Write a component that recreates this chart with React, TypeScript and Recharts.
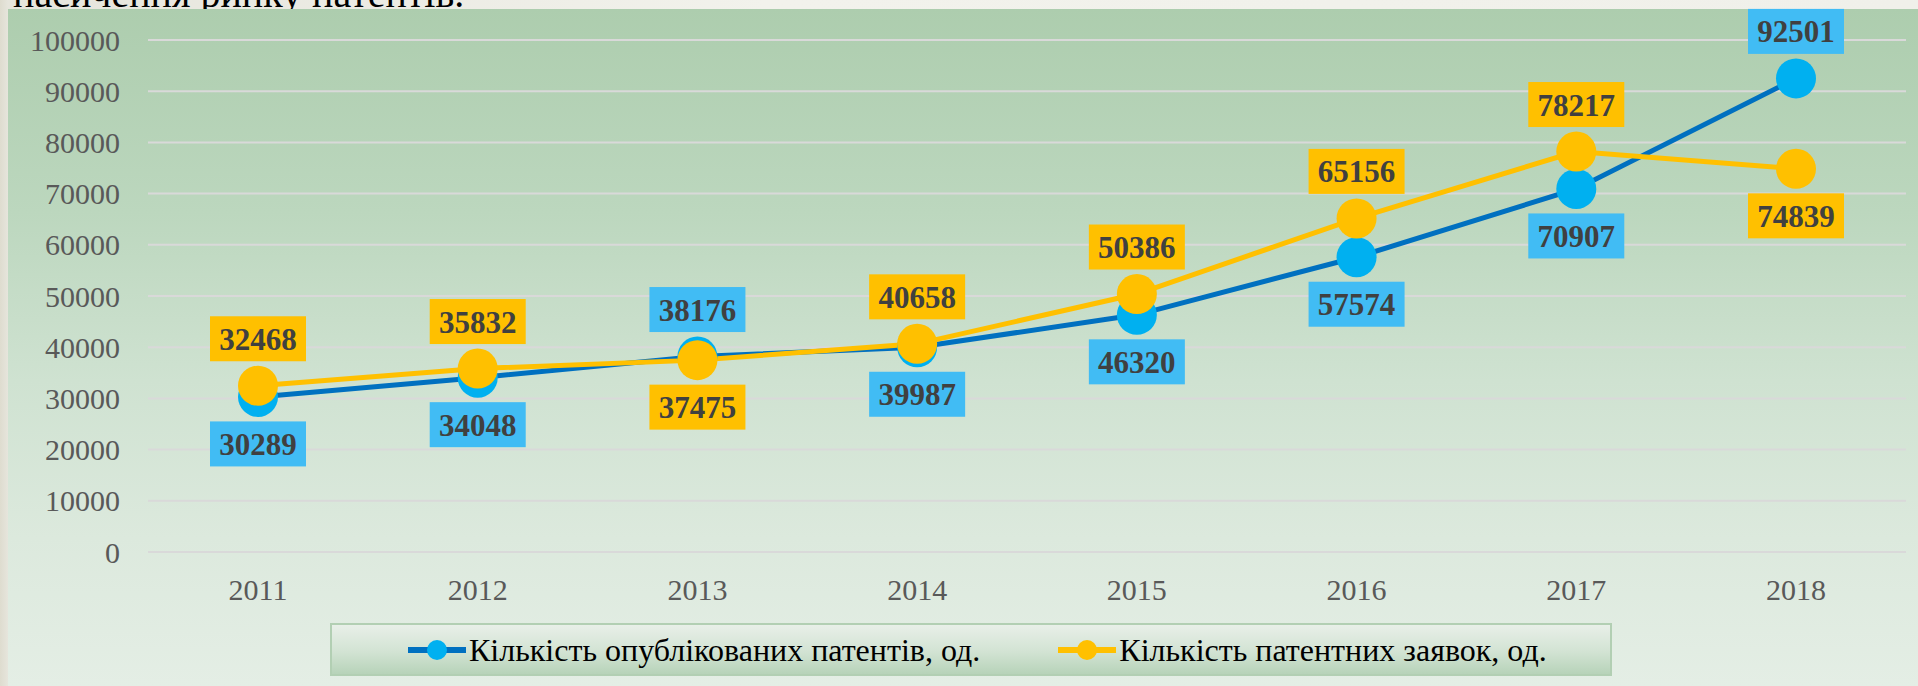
import React from "react";
import {
  LineChart,
  Line,
  XAxis,
  YAxis,
  CartesianGrid,
  Legend,
  LabelList,
} from "recharts";

const years = ["2011", "2012", "2013", "2014", "2015", "2016", "2017", "2018"];
const publishedPatents = [30289, 34048, 38176, 39987, 46320, 57574, 70907, 92501];
const patentApplications = [32468, 35832, 37475, 40658, 50386, 65156, 78217, 74839];
const yTicks = [0, 10000, 20000, 30000, 40000, 50000, 60000, 70000, 80000, 90000, 100000];

// which side of the marker each value label sits on
const publishedLabelSide = ["below", "below", "above", "below", "below", "below", "below", "above"];
const applicationsLabelSide = ["above", "above", "below", "above", "above", "above", "above", "below"];

const seriesNames = {
  published: "Кількість опублікованих патентів, од.",
  applications: "Кількість патентних заявок, од.",
};

const data = years.map((year, i) => ({
  year,
  published: publishedPatents[i],
  applications: patentApplications[i],
}));

const FONT = '"Liberation Serif", "Times New Roman", serif';

function makeValueLabel(sides: string[], values: number[], fill: string) {
  return (props: any) => {
    const { x, y, value } = props;
    const index = props.index ?? values.indexOf(value);
    const dy = sides[index] === "above" ? -47 : 47;
    return (
      <g>
        <rect x={x - 48} y={y + dy - 22.5} width={96} height={45} fill={fill} />
        <text
          x={x}
          y={y + dy + 11}
          textAnchor="middle"
          fontFamily={FONT}
          fontWeight="bold"
          fontSize={31}
          fill="#404040"
        >
          {value}
        </text>
      </g>
    );
  };
}

function LegendBox() {
  const items = [
    { name: seriesNames.published, line: "#0070c0", dot: "#00b0f0" },
    { name: seriesNames.applications, line: "#ffc000", dot: "#ffc000" },
  ];
  return (
    <div
      style={{
        width: 1282,
        height: 53,
        boxSizing: "border-box",
        border: "2px solid #b2cfb3",
        background: "linear-gradient(to bottom, #e8efe8 0%, #d2e3d3 55%, #b7d3b9 100%)",
        display: "flex",
        alignItems: "center",
        paddingLeft: 76,
        fontFamily: FONT,
        fontSize: 32,
        color: "#000",
      }}
    >
      {items.map((it, i) => (
        <div
          key={it.name}
          style={{ display: "flex", alignItems: "center", marginRight: i === 0 ? 78 : 0 }}
        >
          <svg width={58} height={24} style={{ marginRight: 3 }}>
            <line x1={1} y1={12} x2={57} y2={12} stroke={it.line} strokeWidth={6} strokeLinecap="round" />
            <circle cx={29} cy={12} r={10} fill={it.dot} />
          </svg>
          <span style={{ lineHeight: "32px" }}>{it.name}</span>
        </div>
      ))}
    </div>
  );
}

export default function App() {
  return (
    <div
      style={{
        position: "absolute",
        left: 0,
        top: 0,
        width: 1918,
        height: 686,
        overflow: "hidden",
        background: "linear-gradient(to right, #dedccf 0px, #e6e5dc 8px, #f2f2ec 40%, #f0f0ea 100%)",
      }}
    >
      <div
        style={{
          position: "absolute",
          left: 13,
          top: -26,
          fontFamily: FONT,
          fontSize: 40,
          lineHeight: "40px",
          color: "#000",
          whiteSpace: "nowrap",
        }}
      >
        насичення ринку патентів.
      </div>
      <div
        style={{
          position: "absolute",
          left: 8,
          top: 9,
          right: 0,
          bottom: 0,
          background:
            "linear-gradient(to bottom, #adcdae 0%, #bcd7be 30%, #cfe2d1 55%, #dce9dd 78%, #e4eee5 100%)",
        }}
      />
      <div style={{ position: "absolute", left: 0, top: 0 }}>
        <LineChart
          width={1918}
          height={686}
          data={data}
          margin={{ top: 40, right: 12, left: 0, bottom: 21 }}
        >
          <CartesianGrid vertical={false} stroke="#d9d9d9" strokeWidth={2} />
          <XAxis
            dataKey="year"
            padding={{ left: 110, right: 110 }}
            axisLine={false}
            tickLine={false}
            tickSize={6}
            tickMargin={21}
            height={60}
            tick={{ fontFamily: FONT, fontSize: 30, fill: "#595959" }}
          />
          <YAxis
            domain={[0, 100000]}
            ticks={yTicks}
            interval={0}
            width={148}
            axisLine={false}
            tickLine={false}
            tickSize={6}
            tickMargin={22}
            tick={{ fontFamily: FONT, fontSize: 30, fill: "#595959" }}
          />
          <Legend
            verticalAlign="bottom"
            wrapperStyle={{ position: "absolute", left: 330, top: 623, width: 1282, height: 53 }}
            content={() => <LegendBox />}
          />
          <Line
            dataKey="published"
            name={seriesNames.published}
            stroke="#0070c0"
            strokeWidth={5}
            dot={{ r: 20, fill: "#00b0f0", stroke: "none" }}
            activeDot={false}
            isAnimationActive={false}
          />
          <Line
            dataKey="applications"
            name={seriesNames.applications}
            stroke="#ffc000"
            strokeWidth={5}
            dot={{ r: 20, fill: "#ffc000", stroke: "none" }}
            activeDot={false}
            isAnimationActive={false}
          />
          <Line
            dataKey="published"
            stroke="none"
            dot={false}
            activeDot={false}
            legendType="none"
            isAnimationActive={false}
          >
            <LabelList
              dataKey="published"
              content={makeValueLabel(publishedLabelSide, publishedPatents, "#41bcf4")}
            />
          </Line>
          <Line
            dataKey="applications"
            stroke="none"
            dot={false}
            activeDot={false}
            legendType="none"
            isAnimationActive={false}
          >
            <LabelList
              dataKey="applications"
              content={makeValueLabel(applicationsLabelSide, patentApplications, "#ffc000")}
            />
          </Line>
        </LineChart>
      </div>
    </div>
  );
}
